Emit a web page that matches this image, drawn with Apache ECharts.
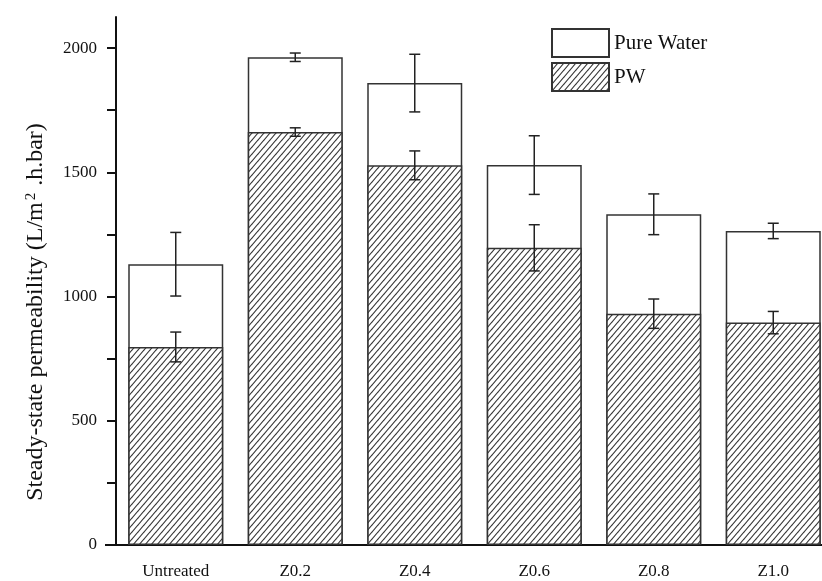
<!DOCTYPE html>
<html>
<head>
<meta charset="utf-8">
<script src="https://cdn.jsdelivr.net/npm/echarts@6/dist/echarts.min.js"></script>
<style>
  html, body { margin: 0; padding: 0; background: #fff; }
  #chart { width: 822px; height: 581px; }
</style>
</head>
<body>
<div id="chart"></div>
<script>
// Membrane treatments along the x axis
const categories = ['Untreated', 'Z0.2', 'Z0.4', 'Z0.6', 'Z0.8', 'Z1.0'];
// Steady-state permeability, L/(m2.h.bar)
const pureWater = [1130, 1963, 1859, 1529, 1331, 1264];
const pw = [797, 1662, 1528, 1196, 931, 895];
// Half-length of the error bars
const pureWaterErr = [128, 17, 116, 118, 82, 31];
const pwErr = [60, 17, 58, 93, 59, 45];
// Y axis ticks and labels
const yTicks = [0, 250, 500, 750, 1000, 1250, 1500, 1750, 2000];
const yLabels = [0, 500, 1000, 1500, 2000];

const FONT = "'Liberation Serif', 'Times New Roman', serif";
const INK = '#222';

// Diagonal hatch tile used as the PW fill
function hatchPattern() {
  const w = 6, h = 7;
  const c = document.createElement('canvas');
  c.width = w; c.height = h;
  const ctx = c.getContext('2d');
  ctx.fillStyle = '#fff';
  ctx.fillRect(0, 0, w, h);
  ctx.strokeStyle = '#333';
  ctx.lineWidth = 1.1;
  for (let k = -1; k <= 1; k++) {
    ctx.beginPath();
    ctx.moveTo(k * w - w, 2 * h);
    ctx.lineTo(k * w + 2 * w, -h);
    ctx.stroke();
  }
  return c;
}

function errorData(values, errs) {
  return values.map((v, i) => [i, v - errs[i], v + errs[i]]);
}

function renderError(params, api) {
  const x = api.value(0);
  const lo = api.coord([x, api.value(1)]);
  const hi = api.coord([x, api.value(2)]);
  const half = 5.5;
  const style = { stroke: INK, lineWidth: 1.5 };
  return {
    type: 'group',
    children: [
      { type: 'line', shape: { x1: lo[0], y1: lo[1], x2: hi[0], y2: hi[1] }, style },
      { type: 'line', shape: { x1: hi[0] - half, y1: hi[1], x2: hi[0] + half, y2: hi[1] }, style },
      { type: 'line', shape: { x1: lo[0] - half, y1: lo[1], x2: lo[0] + half, y2: lo[1] }, style }
    ]
  };
}

const chart = echarts.init(document.getElementById('chart'), null, { renderer: 'canvas' });

const option = {
  animation: false,
  backgroundColor: '#fff',
  // the plot area runs past the right edge of the canvas
  grid: { left: 116, width: 717, top: 17, bottom: 36, outerBoundsMode: 'none', containLabel: false },
  legend: {
    orient: 'vertical',
    left: 546,
    top: 23,
    itemWidth: 57,
    itemHeight: 28,
    itemGap: 4,
    icon: 'rect',
    textStyle: { fontFamily: FONT, fontSize: 21, color: '#111' },
    data: ['Pure Water', 'PW']
  },
  xAxis: {
    type: 'category',
    data: categories,
    axisLine: { lineStyle: { color: '#111', width: 2 } },
    axisTick: { alignWithLabel: true, length: 11, lineStyle: { color: '#111', width: 2 } },
    axisLabel: { fontFamily: FONT, fontSize: 17, color: '#111', margin: 18 }
  },
  yAxis: {
    type: 'value',
    min: 0,
    max: 2125,
    splitLine: { show: false },
    axisLine: { show: true, lineStyle: { color: '#111', width: 2 } },
    axisTick: { show: true, length: 9, customValues: yTicks, lineStyle: { color: '#111', width: 2 } },
    axisLabel: {
      fontFamily: FONT, fontSize: 17, color: '#111', margin: 19,
      customValues: yLabels,
      formatter: v => String(v)
    }
  },
  series: [
    {
      name: 'Pure Water',
      type: 'bar',
      data: pureWater,
      barWidth: 95,
      barGap: '-100%',
      itemStyle: { color: '#fff', borderColor: '#333', borderWidth: 1.5 },
      z: 2
    },
    {
      name: 'PW',
      type: 'bar',
      data: pw,
      barWidth: 95,
      barGap: '-100%',
      itemStyle: { color: { image: hatchPattern(), repeat: 'repeat' }, borderColor: '#333', borderWidth: 1.5 },
      z: 3
    },
    {
      name: 'Pure Water error',
      type: 'custom',
      data: errorData(pureWater, pureWaterErr),
      renderItem: renderError,
      z: 5,
      silent: true
    },
    {
      name: 'PW error',
      type: 'custom',
      data: errorData(pw, pwErr),
      renderItem: renderError,
      z: 5,
      silent: true
    }
  ],
  graphic: [
    {
      type: 'text',
      x: 36,
      y: 312,
      rotation: Math.PI / 2,
      style: {
        text: '{n|Steady-state permeability (L/m}{s|2}{n| .h.bar)}',
        align: 'center',
        verticalAlign: 'middle',
        rich: {
          n: { fontFamily: FONT, fontSize: 24, fill: '#111' },
          s: { fontFamily: FONT, fontSize: 15, fill: '#111', verticalAlign: 'top', padding: [0, 1, 10, 2] }
        }
      }
    }
  ]
};

chart.setOption(option);

// Short stub of the x axis line to the left of the y axis
const origin = chart.convertToPixel({ gridIndex: 0 }, [0, 0]);
chart.setOption({
  graphic: [
    option.graphic[0],
    {
      type: 'line',
      shape: { x1: 105, y1: origin[1], x2: 116, y2: origin[1] },
      style: { stroke: '#111', lineWidth: 2 }
    }
  ]
});
</script>
</body>
</html>
